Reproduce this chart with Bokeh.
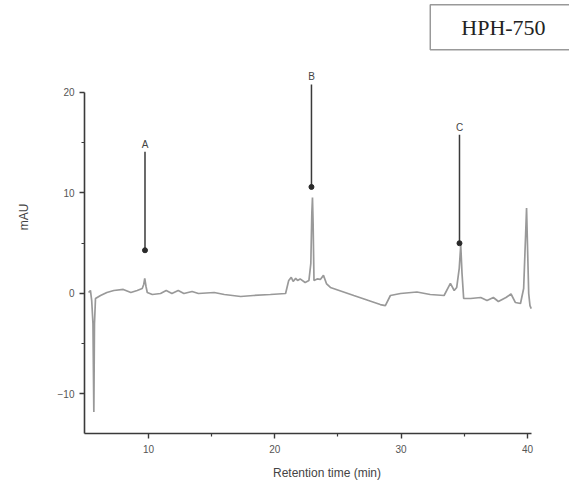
from bokeh.plotting import figure
from bokeh.models import Range1d, Label, ColumnDataSource, FixedTicker
from bokeh.core.properties import value
from bokeh.embed import file_html
from bokeh.resources import INLINE

# Chromatogram trace: retention time (min) vs absorbance (mAU)
time_min = [5.25, 5.4, 5.5, 5.6, 5.67, 5.72, 5.8, 6.2, 6.7, 7.25, 8.0, 8.6, 9.1, 9.5,
            9.62, 9.7, 9.8, 9.9, 10.3, 10.95, 11.4, 11.85, 12.35, 12.8, 13.45, 13.95,
            15.2, 16.0, 17.3, 18.3, 19.65, 20.85, 21.1, 21.3, 21.45, 21.65, 21.8, 22.0,
            22.4, 22.7, 22.85, 22.93, 22.98, 23.03, 23.1, 23.35, 23.6, 23.85, 24.1, 24.4,
            26.25, 28.35, 28.75, 29.15, 29.95, 31.25, 32.3, 33.4, 33.9, 34.2, 34.4,
            34.6, 34.72, 34.82, 34.95, 35.5, 36.3, 36.8, 37.3, 37.7, 38.3, 38.7, 39.05,
            39.45, 39.7, 39.86, 39.93, 40.0, 40.1, 40.2, 40.3]
mau = [0.1, 0.3, -0.7, -3.0, -11.8, -3.0, -0.5, -0.2, 0.1, 0.3, 0.4, 0.1, 0.3, 0.5,
       0.9, 1.5, 0.7, 0.1, -0.1, 0.0, 0.3, 0.0, 0.3, 0.0, 0.2, 0.0,
       0.1, -0.1, -0.3, -0.2, -0.1, 0.0, 1.3, 1.6, 1.2, 1.5, 1.3, 1.45,
       1.1, 1.3, 3.0, 8.0, 9.55, 7.0, 1.3, 1.45, 1.4, 1.8, 0.95, 0.6,
       -0.2, -1.1, -1.2, -0.2, 0.0, 0.15, -0.1, -0.2, 1.0, 0.3, 0.6,
       2.5, 4.8, 2.0, -0.5, -0.5, -0.4, -0.7, -0.4, -0.8, -0.4, -0.05, -0.9,
       -1.0, 0.5, 6.0, 8.5, 5.0, 0.0, -1.2, -1.5]

# Marked peaks and their pointer arrows
peak_names = ["A", "B", "C"]
peak_x = [9.72, 22.9, 34.62]
arrow_top = [14.1, 20.8, 15.8]
arrow_tip = [4.3, 10.6, 5.0]

x_ticks = [10, 20, 30, 40]
x_minor_ticks = [15, 25, 35]
y_ticks = [-10, 0, 10, 20]
y_minor_ticks = [-5, 5, 15]
sample_name = "HPH-750"

p = figure(width=569, height=492, output_backend="svg", toolbar_location=None,
           x_range=Range1d(4.93, 43.33), y_range=Range1d(-13.93, 29.15),
           min_border_left=84, min_border_right=0, min_border_top=0,
           min_border_bottom=59)
p.outline_line_color = None
p.xgrid.visible = False
p.ygrid.visible = False
p.background_fill_color = "white"
p.border_fill_color = "white"

# Axes
for ax in (p.xaxis[0], p.yaxis[0]):
    ax.axis_line_color = "#3a3a3a"
    ax.axis_line_width = 1.6
    ax.major_tick_line_color = "#3a3a3a"
    ax.major_tick_line_width = 1.4
    ax.major_tick_out = 5
    ax.major_tick_in = 0
    ax.minor_tick_line_color = "#3a3a3a"
    ax.minor_tick_line_width = 1.2
    ax.minor_tick_out = 3
    ax.minor_tick_in = 0
    ax.major_label_text_font = "Liberation Sans"
    ax.major_label_text_font_size = "10px"
    ax.major_label_text_color = "#555555"
    ax.axis_label_text_font = "Liberation Sans"
    ax.axis_label_text_font_size = "12px"
    ax.axis_label_text_font_style = "normal"
    ax.axis_label_text_color = "#444444"

p.xaxis[0].ticker = FixedTicker(ticks=x_ticks, minor_ticks=x_minor_ticks)
p.yaxis[0].ticker = FixedTicker(ticks=y_ticks, minor_ticks=y_minor_ticks)
p.xaxis.bounds = (4.93, 40.3)
p.yaxis.bounds = (-13.93, 20)
p.xaxis.axis_label = "Retention time (min)"
p.yaxis.axis_label = "mAU"
p.xaxis.major_label_standoff = 6
p.yaxis.major_label_standoff = 5
p.xaxis.axis_label_standoff = 10
p.yaxis.axis_label_standoff = 24

# Trace
p.line(time_min, mau, line_color="#999999", line_width=1.7)

# Peak pointers
src = ColumnDataSource(dict(x=peak_x, top=arrow_top, tip=arrow_tip, name=peak_names))
p.segment(x0="x", y0="top", x1="x", y1="tip", source=src,
          line_color="#3a3a3a", line_width=1.5)
p.scatter(x="x", y="tip", source=src, marker="circle", size=5,
          fill_color="#2a2a2a", line_color="#2a2a2a")
p.text(x="x", y="top", text="name", source=src, text_align="center",
       text_baseline="bottom", y_offset=-2, text_font=value("Liberation Sans"),
       text_font_size="10px", text_color="#444444")

# Sample tag
tag = Label(x=38.1, y=26.5, text=sample_name, text_align="center",
            text_baseline="middle", text_font="Liberation Serif",
            text_font_size="22px", text_color="#222222",
            border_line_color="#999999", border_line_width=1.5,
            background_fill_color="white", padding=(31, 10))
p.add_layout(tag)

open("out.html", "w").write(file_html(p, INLINE))
